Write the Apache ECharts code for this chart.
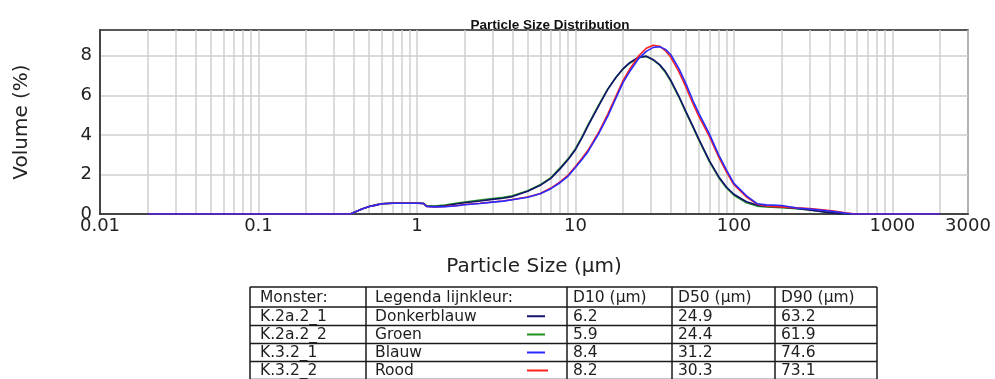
<!DOCTYPE html>
<html>
<head>
<meta charset="utf-8">
<script src="https://cdn.jsdelivr.net/npm/echarts@6/dist/echarts.min.js"></script>
<style>
  html, body { margin: 0; padding: 0; background: #ffffff; }
  #chart { width: 995px; height: 379px; }
</style>
</head>
<body>
<div id="chart"></div>
<script>
// Particle size classes (µm)
const sizes = [0.02, 0.3, 0.38, 0.45, 0.5, 0.55, 0.6, 0.7, 0.8, 0.9,
  1.0, 1.1, 1.15, 1.3, 1.5, 1.8, 2.0, 2.5, 3.0, 3.5,
  4, 5, 6, 7, 8, 9, 10, 11, 12, 14,
  16, 18, 20, 22, 25, 28, 31, 34, 37, 40,
  45, 50, 55, 60, 70, 80, 90, 100, 120, 140,
  160, 200, 250, 300, 350, 400, 450, 500, 560, 2000];

// Volume (%) per class for each sample
const volK2a2_1 = [0, 0, 0, 0.25, 0.38, 0.45, 0.52, 0.54, 0.54, 0.54,
  0.54, 0.53, 0.40, 0.38, 0.42, 0.52, 0.57, 0.66, 0.74, 0.80,
  0.88, 1.15, 1.45, 1.80, 2.28, 2.75, 3.25, 3.85, 4.45, 5.45,
  6.30, 6.90, 7.35, 7.65, 7.92, 7.98, 7.80, 7.55, 7.20, 6.75,
  5.95, 5.15, 4.45, 3.80, 2.70, 1.90, 1.35, 1.00, 0.62, 0.45,
  0.40, 0.36, 0.28, 0.20, 0.13, 0.07, 0.03, 0, 0, 0];
const volK2a2_2 = [0, 0, 0, 0.25, 0.38, 0.46, 0.52, 0.55, 0.55, 0.55,
  0.55, 0.54, 0.42, 0.40, 0.45, 0.55, 0.60, 0.70, 0.78, 0.84,
  0.92, 1.18, 1.48, 1.84, 2.33, 2.80, 3.30, 3.90, 4.50, 5.50,
  6.32, 6.90, 7.33, 7.62, 7.90, 7.96, 7.78, 7.52, 7.15, 6.70,
  5.90, 5.10, 4.40, 3.75, 2.65, 1.85, 1.30, 0.95, 0.57, 0.40,
  0.35, 0.32, 0.27, 0.20, 0.14, 0.09, 0.05, 0.02, 0, 0];
const volK32_1 = [0, 0, 0, 0.25, 0.38, 0.45, 0.52, 0.54, 0.54, 0.54,
  0.54, 0.53, 0.38, 0.36, 0.37, 0.42, 0.47, 0.53, 0.60, 0.65,
  0.72, 0.85, 1.02, 1.28, 1.58, 1.92, 2.35, 2.75, 3.15, 4.05,
  4.95, 5.85, 6.65, 7.20, 7.85, 8.22, 8.42, 8.45, 8.32, 8.05,
  7.35, 6.55, 5.75, 5.10, 4.05, 3.00, 2.20, 1.55, 0.92, 0.52,
  0.46, 0.43, 0.30, 0.25, 0.20, 0.15, 0.10, 0.05, 0, 0];
const volK32_2 = [0, 0, 0, 0.25, 0.38, 0.45, 0.52, 0.54, 0.54, 0.54,
  0.54, 0.53, 0.38, 0.36, 0.38, 0.43, 0.48, 0.54, 0.61, 0.66,
  0.73, 0.86, 1.04, 1.31, 1.62, 1.97, 2.40, 2.82, 3.22, 4.12,
  5.05, 5.95, 6.75, 7.32, 7.98, 8.38, 8.53, 8.48, 8.25, 7.92,
  7.18, 6.38, 5.60, 4.95, 3.92, 2.90, 2.10, 1.48, 0.86, 0.50,
  0.40, 0.36, 0.31, 0.27, 0.22, 0.17, 0.12, 0.06, 0.02, 0];

// Summary table
const tableHeader = ['Monster:', 'Legenda lijnkleur:', 'D10 (µm)', 'D50 (µm)', 'D90 (µm)'];
const sampleNames = ['K.2a.2_1', 'K.2a.2_2', 'K.3.2_1', 'K.3.2_2'];
const colourNames = ['Donkerblauw', 'Groen', 'Blauw', 'Rood'];
const d10 = ['6.2', '5.9', '8.4', '8.2'];
const d50 = ['24.9', '24.4', '31.2', '30.3'];
const d90 = ['63.2', '61.9', '74.6', '73.1'];

// Axis ticks
const xLabelValues = [0.01, 0.1, 1, 10, 100, 1000, 3000];
const xGridValues = [];
[0.01, 0.1, 1, 10, 100, 1000].forEach(function (dec) {
  for (let k = 1; k <= 9; k++) {
    const v = Number((dec * k).toPrecision(3));
    if (v <= 3000) xGridValues.push(v);
  }
});
const yLabelValues = [0, 2, 4, 6, 8];

const lineColours = ['#14146e', '#1f8f1f', '#2a2aff', '#ff2020'];
const seriesValues = [volK2a2_1, volK2a2_2, volK32_1, volK32_2];
const drawOrder = [1, 0, 3, 2];

const chart = echarts.init(document.getElementById('chart'), null, { renderer: 'canvas' });

const series = drawOrder.map(function (idx) {
  return {
    name: sampleNames[idx],
    type: 'line',
    showSymbol: false,
    animation: false,
    data: sizes.map(function (s, i) { return [s, seriesValues[idx][i]]; }),
    lineStyle: { color: lineColours[idx], width: 1.6 },
    itemStyle: { color: lineColours[idx] }
  };
});

// Table geometry
const colX = [250, 366, 567, 672, 775, 877];
const colPad = [10, 9, 6, 6, 6];
const rowY = [287, 307, 325.5, 343.5, 361.5, 379.5];
const tableFont = '15.5px "DejaVu Sans"';
const tableChildren = [];
rowY.forEach(function (y) {
  tableChildren.push({ type: 'line', shape: { x1: colX[0], y1: y, x2: colX[5], y2: y },
    style: { stroke: '#1a1a1a', lineWidth: 1.5 } });
});
colX.forEach(function (x) {
  tableChildren.push({ type: 'line', shape: { x1: x, y1: rowY[0], x2: x, y2: 390 },
    style: { stroke: '#1a1a1a', lineWidth: 1.5 } });
});
function cellText(str, col, row) {
  return { type: 'text', x: colX[col] + colPad[col], y: (rowY[row] + rowY[row + 1]) / 2 + 0.5,
    style: { text: str, font: tableFont, fill: '#1e1e1e', verticalAlign: 'middle', align: 'left' } };
}
tableHeader.forEach(function (h, ci) {
  tableChildren.push(cellText(h, ci, 0));
});
sampleNames.forEach(function (name, ri) {
  const r = ri + 1;
  tableChildren.push(cellText(name, 0, r));
  tableChildren.push(cellText(colourNames[ri], 1, r));
  tableChildren.push(cellText(d10[ri], 2, r));
  tableChildren.push(cellText(d50[ri], 3, r));
  tableChildren.push(cellText(d90[ri], 4, r));
  const cy = (rowY[r] + rowY[r + 1]) / 2;
  tableChildren.push({ type: 'line', shape: { x1: 527, y1: cy, x2: ri === 3 ? 548 : 545, y2: cy },
    style: { stroke: lineColours[ri], lineWidth: 2 } });
});

chart.setOption({
  backgroundColor: '#ffffff',
  animation: false,
  title: {
    text: 'Particle Size Distribution',
    left: 545, top: 13, textAlign: 'center',
    textStyle: { fontFamily: 'Liberation Sans', fontWeight: 'bold', fontSize: 13.5, color: '#111' }
  },
  grid: {
    left: 100, right: 27, top: 30, bottom: 165,
    show: true, borderColor: '#222222', borderWidth: 1.5, backgroundColor: 'transparent'
  },
  xAxis: {
    type: 'log', logBase: 10, min: 0.01, max: 3000,
    name: 'Particle Size (µm)', nameLocation: 'middle', nameGap: 43,
    nameTextStyle: { fontFamily: 'DejaVu Sans', fontSize: 20, color: '#222' },
    axisLine: { show: true, lineStyle: { color: '#222', width: 1.5 } },
    axisTick: { show: false, customValues: xGridValues },
    axisLabel: {
      customValues: xLabelValues, margin: 3,
      fontFamily: 'DejaVu Sans', fontSize: 18, color: '#222',
      formatter: function (v) { return String(Number(Number(v).toPrecision(6))); }
    },
    splitLine: { show: true, lineStyle: { color: '#cfcfcf', width: 1.5 } }
  },
  yAxis: {
    type: 'value', min: 0, max: 9.3,
    name: 'Volume (%)', nameLocation: 'middle', nameGap: 68,
    nameTextStyle: { fontFamily: 'DejaVu Sans', fontSize: 20, color: '#222' },
    axisLine: { show: true, lineStyle: { color: '#222', width: 1.5 } },
    axisTick: { show: false, customValues: yLabelValues },
    axisLabel: { customValues: yLabelValues, margin: 8, fontFamily: 'DejaVu Sans', fontSize: 18, color: '#222' },
    splitLine: { show: true, lineStyle: { color: '#cfcfcf', width: 1.5 } }
  },
  series: series,
  graphic: [{ type: 'group', children: tableChildren }]
});
</script>
</body>
</html>
